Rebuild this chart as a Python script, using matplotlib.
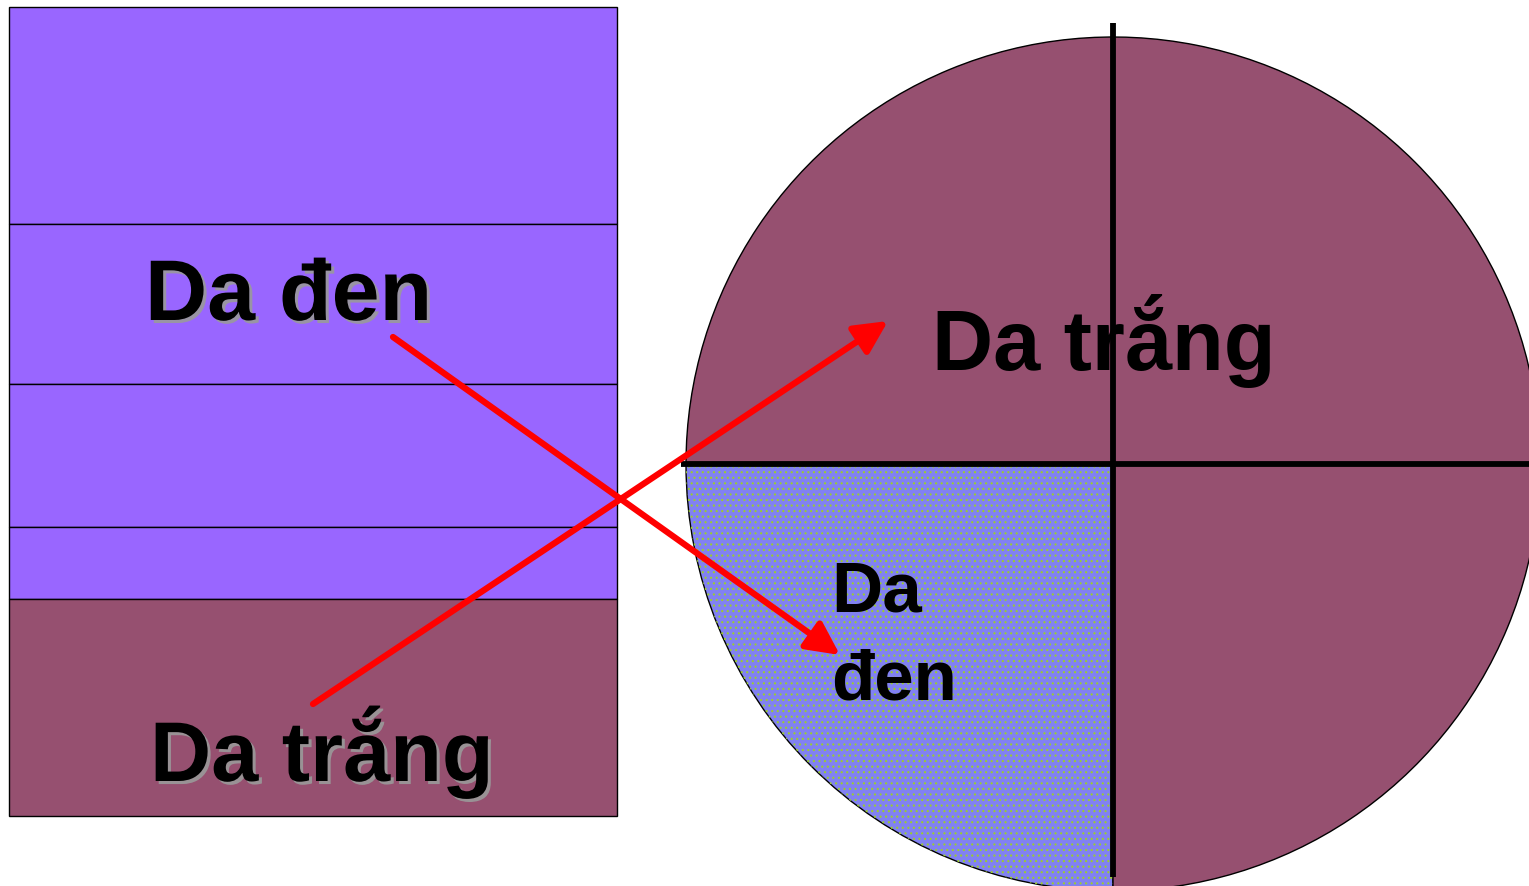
import matplotlib
matplotlib.use('Agg')
import matplotlib.pyplot as plt
import matplotlib.patheffects as pe

plt.rcParams['font.family'] = ['Liberation Sans', 'DejaVu Sans']
plt.rcParams['hatch.linewidth'] = 0.8

# left column: band edges (pixel rows) and which group each band is
band_edges = [8, 225, 385, 528, 600, 817]
band_colors = ['#9966FF', '#9966FF', '#9966FF', '#9966FF', '#965070']

# right circle: share of each group
pie_labels = ['Da đen', 'Da trắng']
pie_shares = [25, 75]
pie_colors = ['#8181F2', '#965070']

left_labels = ['Da đen', 'Da trắng']

W, H = 1529, 887
fig = plt.figure(figsize=(W / 100, H / 100), dpi=100)
ax = fig.add_axes([0, 0, 1, 1])

# stacked bands of the rectangle
for lo, hi, col in zip(band_edges[:-1], band_edges[1:], band_colors):
    ax.bar(313, hi - lo, bottom=lo, width=608, color=col, edgecolor='black', linewidth=1.0)

# circle as a pie
cx, cy, r = 1113, 465, 427
ax.pie(pie_shares, radius=r, center=(cx, cy), startangle=90, counterclock=True,
       colors=pie_colors, wedgeprops=dict(edgecolor='black', linewidth=1.0))
# dotted texture on the small slice
ax.pie(pie_shares, radius=r, center=(cx, cy), startangle=90, counterclock=True,
       colors=['none', 'none'], hatch=['...', ''],
       wedgeprops=dict(edgecolor='#9ACC30', linewidth=0))

# cross through the circle
ax.plot([cx, cx], [24, 878], color='black', lw=4.2, solid_capstyle='butt')
ax.plot([681, W], [cy, cy], color='black', lw=4.2, solid_capstyle='butt')

ax.set_xlim(0, W)
ax.set_ylim(H, 0)
ax.set_aspect('auto')
ax.axis('off')

shadow = [pe.withSimplePatchShadow(offset=(2.2, -2.2), shadow_rgbFace='#9a9a9a', alpha=0.9)]
ax.text(145, 321, left_labels[0], fontsize=62, fontweight='bold', ha='left', va='baseline',
        path_effects=shadow, zorder=5)
ax.text(150, 782, left_labels[1], fontsize=61, fontweight='bold', ha='left', va='baseline',
        path_effects=shadow, zorder=5)
ax.text(932, 370, pie_labels[1], fontsize=61, fontweight='bold', ha='left', va='baseline', zorder=5)
ax.text(831, 612, 'Da', fontsize=51, fontweight='bold', ha='left', va='baseline', zorder=5)
ax.text(831, 700, 'đen', fontsize=51, fontweight='bold', ha='left', va='baseline', zorder=5)

arrow = dict(arrowstyle='-|>,head_length=1.0,head_width=0.5', color='#FF0000', lw=4.5,
             mutation_scale=20, shrinkA=0, shrinkB=0)
ax.annotate('', xy=(840, 656), xytext=(393, 338), arrowprops=arrow, zorder=6)
ax.annotate('', xy=(888, 322), xytext=(313, 705), arrowprops=arrow, zorder=6)

fig.savefig('out.png', dpi=100)
